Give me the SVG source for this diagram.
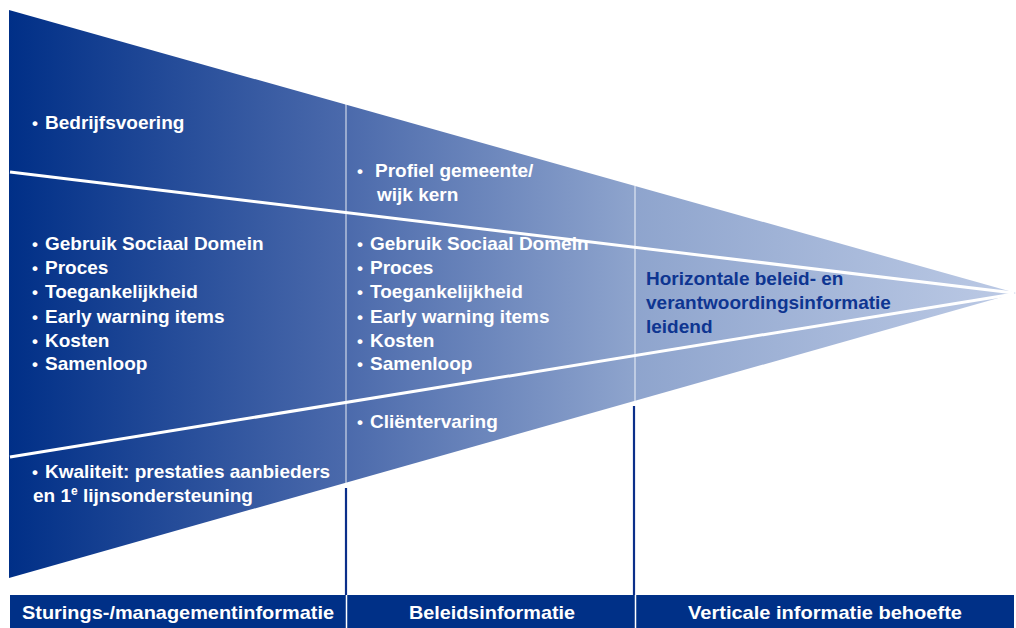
<svg xmlns="http://www.w3.org/2000/svg" width="1016" height="628" viewBox="0 0 1016 628">
<style>
.t{font-family:"Liberation Sans",Arial,sans-serif;font-weight:bold;font-size:19px;fill:#ffffff}
.d{font-family:"Liberation Sans",Arial,sans-serif;font-weight:bold;font-size:19px;fill:#0e3591}
.b{font-family:"Liberation Sans",Arial,sans-serif;font-weight:bold;font-size:19px;fill:#ffffff;text-anchor:middle}
.u{font-size:17px}
.wl{stroke:#ffffff;stroke-width:3;fill:none}
.vl{stroke:#ffffff;stroke-opacity:0.55;stroke-width:1.6;fill:none}
.dl{stroke:#0b2f8a;stroke-width:2.2;fill:none}
</style>
<defs>
<linearGradient id="g" x1="9" y1="0" x2="1016" y2="0" gradientUnits="userSpaceOnUse">
<stop offset="0" stop-color="#002f87"/>
<stop offset="0.33" stop-color="#4a69ab"/>
<stop offset="0.62" stop-color="#8ea4cd"/>
<stop offset="1" stop-color="#bccae5"/>
</linearGradient>
</defs>
<rect width="1016" height="628" fill="#ffffff"/>
<g id="funnel">
<polygon points="9,10 1016,293 9,578" fill="url(#g)"/>
</g>
<g id="col-sturing">
<text class="t"><tspan x="32" y="129" class="u">•</tspan><tspan x="45" y="129">Bedrijfsvoering</tspan></text>
<text class="t"><tspan x="32" y="250" class="u">•</tspan><tspan x="45" y="250">Gebruik Sociaal Domein</tspan><tspan x="32" y="274" class="u">•</tspan><tspan x="45" y="274">Proces</tspan><tspan x="32" y="298" class="u">•</tspan><tspan x="45" y="298">Toegankelijkheid</tspan><tspan x="32" y="323" class="u">•</tspan><tspan x="45" y="323">Early warning items</tspan><tspan x="32" y="347" class="u">•</tspan><tspan x="45" y="347">Kosten</tspan><tspan x="32" y="370" class="u">•</tspan><tspan x="45" y="370">Samenloop</tspan></text>
<text class="t"><tspan x="32" y="478" class="u">•</tspan><tspan x="45" y="478">Kwaliteit: prestaties aanbieders</tspan><tspan x="33" y="502">en 1</tspan><tspan font-size="12" dy="-7">e</tspan><tspan font-size="19" dy="7"> lijnsondersteuning</tspan></text>
</g>
<g id="col-beleid">
<text class="t"><tspan x="357" y="177" class="u">•</tspan><tspan x="375" y="177">Profiel gemeente/</tspan><tspan x="377" y="201">wijk kern</tspan></text>
<text class="t"><tspan x="357" y="250" class="u">•</tspan><tspan x="370" y="250">Gebruik Sociaal Domein</tspan><tspan x="357" y="274" class="u">•</tspan><tspan x="370" y="274">Proces</tspan><tspan x="357" y="298" class="u">•</tspan><tspan x="370" y="298">Toegankelijkheid</tspan><tspan x="357" y="323" class="u">•</tspan><tspan x="370" y="323">Early warning items</tspan><tspan x="357" y="347" class="u">•</tspan><tspan x="370" y="347">Kosten</tspan><tspan x="357" y="370" class="u">•</tspan><tspan x="370" y="370">Samenloop</tspan></text>
<text class="t"><tspan x="357" y="428" class="u">•</tspan><tspan x="370" y="428">Cliëntervaring</tspan></text>
</g>
<g id="col-verticaal">
<text class="d"><tspan x="646" y="285">Horizontale beleid- en</tspan><tspan x="646" y="309">verantwoordingsinformatie</tspan><tspan x="646" y="333">leidend</tspan></text>
</g>
<g id="connectors">
<line class="vl" x1="346" y1="104" x2="346" y2="483"/>
<line class="vl" x1="635" y1="186" x2="635" y2="401"/>
<line class="wl" x1="10" y1="172" x2="1014" y2="293"/>
<line class="wl" x1="10" y1="457" x2="1014" y2="294"/>
<line class="dl" x1="346" y1="488" x2="346" y2="595"/>
<line class="dl" x1="634" y1="406" x2="634" y2="595"/>
</g>
<g id="bar">
<rect x="10" y="595" width="1004" height="33" fill="#003087"/>
<line x1="346.5" y1="595" x2="346.5" y2="628" stroke="#ffffff" stroke-width="1.5"/>
<line x1="635.5" y1="595" x2="635.5" y2="628" stroke="#ffffff" stroke-width="1.5"/>
<text class="b" x="178" y="619" textLength="312" lengthAdjust="spacingAndGlyphs">Sturings-/managementinformatie</text>
<text class="b" x="492" y="619" textLength="166" lengthAdjust="spacingAndGlyphs">Beleidsinformatie</text>
<text class="b" x="825" y="619" textLength="274" lengthAdjust="spacingAndGlyphs">Verticale informatie behoefte</text>
</g>
</svg>
